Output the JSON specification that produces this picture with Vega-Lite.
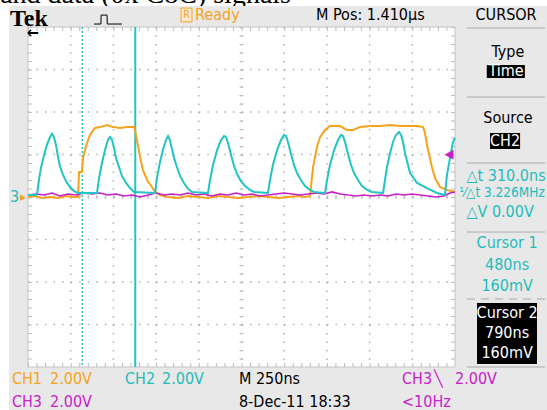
{
 "$schema": "https://vega.github.io/schema/vega-lite/v6.json",
 "width": 547, "height": 410,
 "autosize": "none",
 "padding": 0,
 "background": "#e8e8e8",
 "config": {"view": {"stroke": null}, "text": {"font": "DejaVu Sans Condensed, Liberation Sans Narrow, DejaVu Sans, sans-serif", "fontSize": 16}},
 "encoding": {
  "x": {"field": "t", "type": "quantitative", "scale": {"domain": [-163.9, 3038.6], "nice": false, "zero": false}, "axis": null},
  "y": {"field": "v", "type": "quantitative", "scale": {"domain": [-10.0235, 9.2706], "nice": false, "zero": false}, "axis": null}
 },
 "layer": [
  {"data": {"values": [{"t": -163.9, "t2": 3038.6, "v": 9.2706, "v2": 8.99}, {"t": -163.9, "t2": -111, "v": 9.2706, "v2": -10.0235}]},
   "mark": {"type": "rect", "fill": "white"},
   "encoding": {"x2": {"field": "t2"}, "y2": {"field": "v2"}}},
  {"data": {"values": [{"t": -163, "v": 9.13, "label": "and data (0x C8C) signals"}]},
   "mark": {"type": "text", "align": "left", "baseline": "alphabetic", "font": "Liberation Serif", "fontSize": 28, "color": "black"},
   "encoding": {"text": {"field": "label"}}},
  {"data": {"values": [{"t": -111, "t2": 3038.6, "v": 8.99, "v2": -10.0235}]},
   "mark": {"type": "rect", "fill": "#e8e8e8"},
   "encoding": {"x2": {"field": "t2"}, "y2": {"field": "v2"}}},
  {"data": {"values": [{"t": 0, "t2": 2500, "v": 8, "v2": -8}]},
   "mark": {"type": "rect", "fill": "white", "stroke": "#c4c4c4", "strokeWidth": 1},
   "encoding": {"x2": {"field": "t2"}, "y2": {"field": "v2"}}},
  {"data": {"values": [{"t": 250, "v": 8, "v2": -8}, {"t": 500, "v": 8, "v2": -8}, {"t": 750, "v": 8, "v2": -8}, {"t": 1000, "v": 8, "v2": -8}, {"t": 1250, "v": 8, "v2": -8}, {"t": 1500, "v": 8, "v2": -8}, {"t": 1750, "v": 8, "v2": -8}, {"t": 2000, "v": 8, "v2": -8}, {"t": 2250, "v": 8, "v2": -8}]},
   "mark": {"type": "rule", "color": "#b0b0b0", "strokeWidth": 1.5, "strokeDash": [1.5, 7]},
   "encoding": {"y2": {"field": "v2"}}},
  {"data": {"values": [{"t": 0, "t2": 2500, "v": 6}, {"t": 0, "t2": 2500, "v": 4}, {"t": 0, "t2": 2500, "v": 2}, {"t": 0, "t2": 2500, "v": 0}, {"t": 0, "t2": 2500, "v": -2}, {"t": 0, "t2": 2500, "v": -4}, {"t": 0, "t2": 2500, "v": -6}]},
   "mark": {"type": "rule", "color": "#b0b0b0", "strokeWidth": 1.5, "strokeDash": [1.5, 7.04]},
   "encoding": {"x2": {"field": "t2"}}},
  {"data": {"values": [{"t": 0, "t2": 2500, "v": 0}, {"t": 0, "t2": 2500, "v": 7.906}, {"t": 0, "t2": 2500, "v": -7.906}]},
   "mark": {"type": "rule", "color": "#bcbcbc", "strokeWidth": 4, "strokeDash": [1, 7.54]},
   "encoding": {"x2": {"field": "t2"}}},
  {"data": {"values": [{"t": 1250, "v": 8, "v2": -8}, {"t": 11.7, "v": 8, "v2": -8}, {"t": 2488.3, "v": 8, "v2": -8}]},
   "mark": {"type": "rule", "color": "#bcbcbc", "strokeWidth": 4, "strokeDash": [1, 7.5]},
   "encoding": {"y2": {"field": "v2"}}},
  {"data": {"values": [{"t": 318, "v": 8, "v2": -8}]},
   "mark": {"type": "rule", "color": "#22c4c4", "strokeWidth": 1.5, "strokeDash": [2, 2]},
   "encoding": {"y2": {"field": "v2"}}},
  {"data": {"values": [{"t": 628, "v": 8, "v2": -8}]},
   "mark": {"type": "rule", "color": "#22c4c4", "strokeWidth": 2},
   "encoding": {"y2": {"field": "v2"}}},
  {"data": {"values": [
    {"t":0,"v":0},{"t":41,"v":0.05},{"t":82,"v":-0.05},{"t":129,"v":0},{"t":176,"v":-0.05},{"t":222,"v":0.05},{"t":269,"v":0},{"t":293,"v":0},{"t":299,"v":1.18},{"t":316,"v":1.18},{"t":322,"v":1.84},{"t":345,"v":2.54},{"t":363,"v":2.92},{"t":392,"v":3.25},{"t":422,"v":3.29},{"t":463,"v":3.39},{"t":498,"v":3.29},{"t":539,"v":3.25},{"t":580,"v":3.29},{"t":621,"v":3.29},{"t":626,"v":3.15},{"t":638,"v":2.68},{"t":656,"v":1.88},{"t":673,"v":1.27},{"t":697,"v":0.8},{"t":726,"v":0.47},{"t":744,"v":0.24},{"t":773,"v":0.09},{"t":820,"v":0},{"t":878,"v":-0.05},{"t":937,"v":0.05},{"t":995,"v":0},{"t":1054,"v":-0.05},{"t":1112,"v":0.05},{"t":1171,"v":0},{"t":1230,"v":-0.05},{"t":1288,"v":0},{"t":1347,"v":0.05},{"t":1405,"v":0},{"t":1464,"v":-0.05},{"t":1522,"v":0},{"t":1581,"v":0.05},{"t":1622,"v":0},{"t":1651,"v":0.05},{"t":1669,"v":1.41},{"t":1692,"v":2.35},{"t":1710,"v":2.82},{"t":1739,"v":3.15},{"t":1768,"v":3.34},{"t":1827,"v":3.34},{"t":1868,"v":3.15},{"t":1903,"v":3.15},{"t":1944,"v":3.29},{"t":2002,"v":3.34},{"t":2061,"v":3.34},{"t":2120,"v":3.39},{"t":2178,"v":3.34},{"t":2237,"v":3.34},{"t":2283,"v":3.34},{"t":2313,"v":3.29},{"t":2324,"v":3.01},{"t":2342,"v":2.21},{"t":2365,"v":1.41},{"t":2383,"v":0.89},{"t":2412,"v":0.47},{"t":2453,"v":0.33},{"t":2500,"v":0.24}
   ]},
   "mark": {"type": "line", "color": "#f7a21b", "strokeWidth": 2}},
  {"data": {"values": [
    {"t":0,"v":0.09},{"t":47,"v":0.14},{"t":94,"v":0.09},{"t":141,"v":0.19},{"t":187,"v":0.05},{"t":234,"v":0.14},{"t":281,"v":0.09},{"t":328,"v":0.19},{"t":375,"v":0.14},{"t":422,"v":0.19},{"t":468,"v":0.09},{"t":515,"v":0.14},{"t":562,"v":0.05},{"t":609,"v":0.09},{"t":656,"v":0},{"t":703,"v":0.09},{"t":749,"v":0.19},{"t":796,"v":0.09},{"t":843,"v":0.14},{"t":890,"v":0.09},{"t":937,"v":0.19},{"t":984,"v":0.09},{"t":1030,"v":0.14},{"t":1077,"v":0.05},{"t":1124,"v":0.14},{"t":1171,"v":0.09},{"t":1218,"v":0.19},{"t":1265,"v":0.09},{"t":1312,"v":0.14},{"t":1358,"v":0.05},{"t":1405,"v":0.09},{"t":1452,"v":0.14},{"t":1499,"v":0.19},{"t":1546,"v":0.14},{"t":1593,"v":0.09},{"t":1639,"v":0.14},{"t":1686,"v":0.19},{"t":1733,"v":0.14},{"t":1780,"v":0.24},{"t":1827,"v":0.14},{"t":1874,"v":0.09},{"t":1920,"v":0.05},{"t":1967,"v":0.09},{"t":2014,"v":0.05},{"t":2061,"v":0.09},{"t":2108,"v":0.05},{"t":2155,"v":0.14},{"t":2201,"v":0.09},{"t":2248,"v":0.14},{"t":2295,"v":0.09},{"t":2342,"v":0.05},{"t":2389,"v":0},{"t":2436,"v":0.05},{"t":2471,"v":0.19},{"t":2500,"v":0.24}
   ]},
   "mark": {"type": "line", "color": "#c820c8", "strokeWidth": 1.5}},
  {"data": {"values": [
    {"t":0,"v":0.09},{"t":47,"v":0.09},{"t":53,"v":0.14},{"t":64,"v":0.8},{"t":76,"v":1.37},{"t":94,"v":1.98},{"t":111,"v":2.45},{"t":129,"v":2.82},{"t":141,"v":2.97},{"t":152,"v":2.82},{"t":164,"v":2.45},{"t":176,"v":1.88},{"t":187,"v":1.46},{"t":205,"v":1.04},{"t":222,"v":0.75},{"t":246,"v":0.47},{"t":269,"v":0.28},{"t":293,"v":0.19},{"t":404,"v":0.19},{"t":416,"v":0.89},{"t":433,"v":1.6},{"t":451,"v":2.21},{"t":468,"v":2.68},{"t":480,"v":2.82},{"t":492,"v":2.68},{"t":504,"v":2.31},{"t":515,"v":1.84},{"t":533,"v":1.41},{"t":550,"v":0.99},{"t":574,"v":0.66},{"t":597,"v":0.42},{"t":621,"v":0.24},{"t":744,"v":0.19},{"t":755,"v":0.89},{"t":773,"v":1.65},{"t":790,"v":2.21},{"t":808,"v":2.68},{"t":820,"v":2.87},{"t":831,"v":2.68},{"t":843,"v":2.26},{"t":855,"v":1.84},{"t":872,"v":1.41},{"t":890,"v":0.99},{"t":913,"v":0.66},{"t":937,"v":0.38},{"t":960,"v":0.24},{"t":1054,"v":0.19},{"t":1066,"v":0.8},{"t":1083,"v":1.51},{"t":1107,"v":2.21},{"t":1130,"v":2.68},{"t":1148,"v":2.87},{"t":1159,"v":2.82},{"t":1171,"v":2.54},{"t":1189,"v":1.98},{"t":1206,"v":1.46},{"t":1224,"v":1.08},{"t":1247,"v":0.75},{"t":1271,"v":0.52},{"t":1300,"v":0.33},{"t":1323,"v":0.24},{"t":1405,"v":0.19},{"t":1417,"v":0.8},{"t":1434,"v":1.51},{"t":1458,"v":2.21},{"t":1481,"v":2.68},{"t":1499,"v":2.92},{"t":1511,"v":2.87},{"t":1522,"v":2.59},{"t":1540,"v":2.02},{"t":1557,"v":1.51},{"t":1575,"v":1.13},{"t":1598,"v":0.8},{"t":1622,"v":0.52},{"t":1651,"v":0.33},{"t":1675,"v":0.24},{"t":1739,"v":0.19},{"t":1751,"v":0.8},{"t":1768,"v":1.51},{"t":1792,"v":2.21},{"t":1815,"v":2.68},{"t":1833,"v":2.92},{"t":1844,"v":2.87},{"t":1856,"v":2.59},{"t":1874,"v":2.02},{"t":1891,"v":1.51},{"t":1909,"v":1.13},{"t":1932,"v":0.8},{"t":1956,"v":0.52},{"t":1985,"v":0.33},{"t":2014,"v":0.24},{"t":2079,"v":0.19},{"t":2090,"v":0.8},{"t":2102,"v":1.41},{"t":2120,"v":2.07},{"t":2137,"v":2.59},{"t":2155,"v":2.92},{"t":2172,"v":3.06},{"t":2184,"v":2.92},{"t":2196,"v":2.59},{"t":2207,"v":2.07},{"t":2237,"v":1.13},{"t":2278,"v":0.66},{"t":2336,"v":0.42},{"t":2395,"v":0.19},{"t":2441,"v":0.09},{"t":2453,"v":1.04},{"t":2471,"v":1.84},{"t":2488,"v":2.59},{"t":2500,"v":2.78}
   ]},
   "mark": {"type": "line", "color": "#22c4c4", "strokeWidth": 2}},
  {"data": {"values": [{"t": 386, "v": 8.14}, {"t": 427, "v": 8.14}, {"t": 428, "v": 8.56}, {"t": 463, "v": 8.56}, {"t": 464, "v": 8.14}, {"t": 550, "v": 8.14}]},
   "mark": {"type": "line", "color": "black", "strokeWidth": 1}},
  {"data": {"values": [{"t": 896, "t2": 960, "v": 8.89, "v2": 8.24}]},
   "mark": {"type": "rect", "fill": "#fdebd0", "stroke": "#f7a21b", "strokeWidth": 1},
   "encoding": {"x2": {"field": "t2"}, "y2": {"field": "v2"}}},
  {"data": {"values": [{"t": 2686, "t2": 2909, "v": 6.21, "v2": 5.6}, {"t": 2705, "t2": 2881, "v": 3.01, "v2": 2.26}, {"t": 2629, "t2": 2980, "v": -4.99, "v2": -7.86}]},
   "mark": {"type": "rect", "color": "black"},
   "encoding": {"x2": {"field": "t2"}, "y2": {"field": "v2"}}},
  {"data": {"values": [{"t": 2570, "t2": 3027, "v": 7.95}, {"t": 2570, "t2": 3027, "v": 4.71}, {"t": 2570, "t2": 3027, "v": 1.6}, {"t": 2570, "t2": 3027, "v": -1.65}, {"t": 2570, "t2": 3027, "v": -8.0}]},
   "mark": {"type": "rule", "color": "#c8c8c8", "strokeWidth": 2},
   "encoding": {"x2": {"field": "t2"}}},
  {"data": {"values": [{"t": 2570, "t2": 3027, "v": -4.8}]},
   "mark": {"type": "rule", "color": "#c8c8c8", "strokeWidth": 2, "strokeDash": [8, 6]},
   "encoding": {"x2": {"field": "t2"}}},
  {"data": {"values": [{"t": -105, "v": 8.4, "label": "Tek"}]},
   "mark": {"type": "text", "align": "left", "baseline": "middle", "font": "Liberation Serif", "fontWeight": "bold", "fontSize": 24, "color": "black"},
   "encoding": {"text": {"field": "label"}}},
  {"data": {"values": [{"t": 29, "v": 7.72, "label": "←"}]},
   "mark": {"type": "text", "align": "center", "baseline": "middle", "fontWeight": "bold", "fontSize": 16, "color": "black"},
   "encoding": {"text": {"field": "label"}}},
  {"data": {"values": [{"t": 2799, "v": 8.565, "label": "CURSOR"}, {"t": 2810, "v": 6.82, "label": "Type"}, {"t": 2810, "v": 3.72, "label": "Source"}]},
   "mark": {"type": "text", "align": "center", "baseline": "middle", "color": "black"},
   "encoding": {"text": {"field": "label"}}},
  {"data": {"values": [{"t": 1686, "v": 8.565, "label": "M Pos: 1.410µs"}, {"t": 1235, "v": -8.565, "label": "M 250ns"}, {"t": 1235, "v": -9.66, "label": "8-Dec-11 18:33"}]},
   "mark": {"type": "text", "align": "left", "baseline": "middle", "color": "black"},
   "encoding": {"text": {"field": "label"}}},
  {"data": {"values": [{"t": 2799, "v": 5.91, "label": "Time"}, {"t": 2793, "v": 2.635, "label": "CH2"}, {"t": 2805, "v": -5.46, "label": "Cursor 2"}, {"t": 2805, "v": -6.4, "label": "790ns"}, {"t": 2805, "v": -7.34, "label": "160mV"}]},
   "mark": {"type": "text", "align": "center", "baseline": "middle", "color": "white"},
   "encoding": {"text": {"field": "label"}}},
  {"data": {"values": [{"t": 2799, "v": 0.988, "label": "△t 310.0ns"}, {"t": 2764, "v": -0.71, "label": "△V 0.00V"}, {"t": 2805, "v": -2.16, "label": "Cursor 1"}, {"t": 2805, "v": -3.2, "label": "480ns"}, {"t": 2805, "v": -4.19, "label": "160mV"}, {"t": -79, "v": 0, "label": "3"}]},
   "mark": {"type": "text", "align": "center", "baseline": "middle", "color": "#1fbcbc"},
   "encoding": {"text": {"field": "label"}}},
  {"data": {"values": [{"t": 2775, "v": 0.19, "label": "⅟△t 3.226MHz"}]},
   "mark": {"type": "text", "align": "center", "baseline": "middle", "fontSize": 13.5, "color": "#1fbcbc"},
   "encoding": {"text": {"field": "label"}}},
  {"data": {"values": [{"t": 568, "v": -8.565, "label": "CH2"}, {"t": 785, "v": -8.565, "label": "2.00V"}]},
   "mark": {"type": "text", "align": "left", "baseline": "middle", "color": "#1fbcbc"},
   "encoding": {"text": {"field": "label"}}},
  {"data": {"values": [{"t": 978, "v": 8.565, "label": "Ready"}, {"t": -94, "v": -8.565, "label": "CH1"}, {"t": 129, "v": -8.565, "label": "2.00V"}]},
   "mark": {"type": "text", "align": "left", "baseline": "middle", "color": "#f7a21b"},
   "encoding": {"text": {"field": "label"}}},
  {"data": {"values": [{"t": 928, "v": 8.565, "label": "R"}]},
   "mark": {"type": "text", "align": "center", "baseline": "middle", "fontSize": 11, "color": "#f7a21b"},
   "encoding": {"text": {"field": "label"}}},
  {"data": {"values": [{"t": -29, "v": 0, "label": "▸"}]},
   "mark": {"type": "text", "align": "center", "baseline": "middle", "fontSize": 13, "color": "#f7a21b"},
   "encoding": {"text": {"field": "label"}}},
  {"data": {"values": [{"t": -94, "v": -9.66, "label": "CH3"}, {"t": 129, "v": -9.66, "label": "2.00V"}, {"t": 2190, "v": -8.565, "label": "CH3"}, {"t": 2377, "v": -8.565, "label": "╲"}, {"t": 2500, "v": -8.565, "label": "2.00V"}, {"t": 2190, "v": -9.66, "label": "<10Hz"}]},
   "mark": {"type": "text", "align": "left", "baseline": "middle", "color": "#c820c8"},
   "encoding": {"text": {"field": "label"}}},
  {"data": {"values": [{"t": 2465, "v": 2.02, "label": "◀"}]},
   "mark": {"type": "text", "align": "center", "baseline": "middle", "fontSize": 13, "color": "#c820c8"},
   "encoding": {"text": {"field": "label"}}}
 ]
}
